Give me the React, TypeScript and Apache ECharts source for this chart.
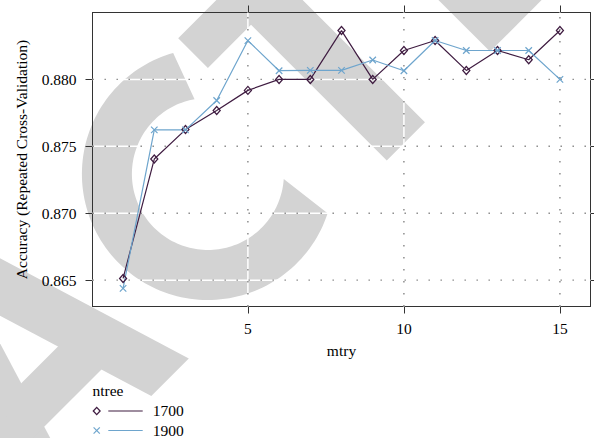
import React, { useEffect, useRef } from "react";
import * as echarts from "echarts";

// ---- data ----
const mtry = [1, 2, 3, 4, 5, 6, 7, 8, 9, 10, 11, 12, 13, 14, 15];
const ntreeLevels = ["1700", "1900"];
const acc1700 = [0.86513, 0.87405, 0.87625, 0.87767, 0.87918, 0.88, 0.88, 0.88365, 0.88, 0.88216, 0.88291, 0.88067, 0.88216, 0.88147, 0.88365];
const acc1900 = [0.86438, 0.87623, 0.87623, 0.87842, 0.8829, 0.88065, 0.88067, 0.88067, 0.88145, 0.88065, 0.88291, 0.88216, 0.88216, 0.88216, 0.88];
const xTicks = [5, 10, 15];
const yTicks = [0.865, 0.87, 0.875, 0.88];
const xTitle = "mtry";
const yTitle = "Accuracy (Repeated Cross-Validation)";
const legendTitle = "ntree";

// ---- styles ----
const FONT = "Liberation Serif";
const FS = 15.5;
const PURPLE = "#3f1c41";
const BLUE = "#6ea5cd";
const FRAME = "#333333";
const WM = "#d3d3d3";

const GRID = { left: 92.5, top: 12.5, width: 498, height: 294 };

// watermark helpers (decoration only)
const S2 = Math.SQRT2;
const toScreen = (p: number[]) => [(p[0] + p[1]) / S2, (p[1] - p[0]) / S2];
const letterPoly = (pts: number[][]) => pts.map(toScreen);
function cShape() {
  const cx = 207.9, cy = 174, R = 126, r = 76;
  const pts: number[][] = [];
  const rad = (d: number) => (d * Math.PI) / 180;
  for (let a = 18.2; a <= 254; a += 2) pts.push([cx + R * Math.cos(rad(a)), cy + R * Math.sin(rad(a))]);
  pts.push([cx + R * Math.cos(rad(254)), cy + R * Math.sin(rad(254))]);
  for (let a = 259.9; a >= 3.7; a -= 2) pts.push([cx + r * Math.cos(rad(a)), cy + r * Math.sin(rad(a))]);
  pts.push([cx + r * Math.cos(rad(3.7)), cy + r * Math.sin(rad(3.7))]);
  return pts;
}

const txt = (text: string, x: number, y: number, align: string, rotation = 0) => ({
  type: "text", x, y, rotation,
  style: { text, fontFamily: FONT, fontSize: FS, fill: "#000", align, verticalAlign: "middle" },
});

export default function App() {
  const ref = useRef<HTMLDivElement>(null);
  useEffect(() => {
    if (!ref.current) return;
    const chart = echarts.init(ref.current, undefined, { renderer: "svg" });

    const allY = acc1700.concat(acc1900);
    const yLo = Math.min(...allY), yHi = Math.max(...allY);
    const yPad = 0.07 * (yHi - yLo);
    const yMin = yLo - yPad, yMax = yHi + yPad;
    const xLo = Math.min(...mtry), xHi = Math.max(...mtry);
    const xPad = 0.07 * (xHi - xLo);
    const xMin = xLo - xPad, xMax = xHi + xPad;

    const wmPolys = [
      cShape(),
      letterPoly([[99, 153], [275, 153], [275, 195], [214, 195], [214, 387], [160, 387], [160, 195], [99, 195]]),
      letterPoly([[310, 383], [600, 383], [600, 100], [310, 100]]),
      letterPoly([[-191.8, 153], [-120, 387], [-173, 387], [-244.8, 153]]),
      letterPoly([[-268.2, 153], [-215.2, 153], [-287, 387], [-340, 387]]),
      letterPoly([[-290, 286], [-170, 286], [-170, 333], [-290, 333]]),
    ];

    const gridGroup = (p1: number[], p2: number[]) => {
      const shape = { x1: p1[0], y1: p1[1], x2: p2[0], y2: p2[1] };
      return {
        type: "group",
        children: [
          { type: "line", shape, style: { stroke: "#ffffff", lineWidth: 1.5 } },
          { type: "line", shape, style: { stroke: "#858585", lineWidth: 1.4, lineDash: [1.4, 10.6] } },
        ],
      };
    };

    const axisCommon = {
      type: "value" as const,
      axisLine: { show: true, onZero: false, lineStyle: { color: FRAME, width: 1 } },
      splitLine: { show: false },
    };

    const legendY = [411, 430.5];

    chart.setOption({
      animation: false,
      textStyle: { fontFamily: FONT, fontSize: FS },
      grid: { ...GRID, containLabel: false },
      xAxis: [
        {
          ...axisCommon, min: xMin, max: xMax, position: "bottom",
          axisTick: { show: true, length: 7, customValues: xTicks, lineStyle: { color: FRAME } },
          axisLabel: { show: true, customValues: xTicks, margin: 14, fontFamily: FONT, fontSize: FS, color: "#000" },
        },
        {
          ...axisCommon, min: xMin, max: xMax, position: "top",
          axisTick: { show: true, length: 7, customValues: xTicks, lineStyle: { color: FRAME } },
          axisLabel: { show: false },
        },
      ],
      yAxis: [
        {
          ...axisCommon, min: yMin, max: yMax, position: "left",
          axisTick: { show: true, length: 7, customValues: yTicks, lineStyle: { color: FRAME } },
          axisLabel: {
            show: true, customValues: yTicks, margin: 16, color: "#000",
            fontFamily: FONT, fontSize: FS,
            formatter: (v: number) => v.toFixed(3),
          },
        },
        {
          ...axisCommon, min: yMin, max: yMax, position: "right",
          axisTick: { show: true, length: 7, customValues: yTicks, lineStyle: { color: FRAME } },
          axisLabel: { show: false },
        },
      ],
      graphic: [
        ...wmPolys.map((pts) => ({
          type: "polygon", z: -10, silent: true, shape: { points: pts }, style: { fill: WM },
        })),
        txt(yTitle, 21.5, GRID.top + GRID.height / 2, "center", Math.PI / 2),
        txt(xTitle, GRID.left + GRID.width / 2, 350, "center"),
        txt(legendTitle, 92.5, 390.5, "left"),
        {
          type: "polygon",
          shape: { points: [[96.7, legendY[0] - 3.6], [100.1, legendY[0]], [96.7, legendY[0] + 3.6], [93.3, legendY[0]]] },
          style: { fill: "none", stroke: PURPLE, lineWidth: 1.3 },
        },
        {
          type: "line", shape: { x1: 108.3, y1: legendY[0], x2: 142.7, y2: legendY[0] },
          style: { stroke: PURPLE, lineWidth: 1.2 },
        },
        txt(ntreeLevels[0], 152.7, legendY[0] - 0.5, "left"),
        {
          type: "line", shape: { x1: 93.6, y1: legendY[1] - 3.1, x2: 99.8, y2: legendY[1] + 3.1 },
          style: { stroke: BLUE, lineWidth: 1.2 },
        },
        {
          type: "line", shape: { x1: 99.8, y1: legendY[1] - 3.1, x2: 93.6, y2: legendY[1] + 3.1 },
          style: { stroke: BLUE, lineWidth: 1.2 },
        },
        {
          type: "line", shape: { x1: 108.3, y1: legendY[1], x2: 142.7, y2: legendY[1] },
          style: { stroke: BLUE, lineWidth: 1.2 },
        },
        txt(ntreeLevels[1], 152.7, legendY[1] - 0.5, "left"),
      ],
      series: [
        {
          type: "custom", silent: true, z: 1,
          data: xTicks.map((v) => [v, yMin]),
          renderItem: (params: any, api: any) => {
            const v = api.value(0);
            return gridGroup(api.coord([v, yMin]), api.coord([v, yMax]));
          },
        },
        {
          type: "custom", silent: true, z: 1,
          data: yTicks.map((v) => [xMin, v]),
          renderItem: (params: any, api: any) => {
            const v = api.value(1);
            return gridGroup(api.coord([xMin, v]), api.coord([xMax, v]));
          },
        },
        {
          name: ntreeLevels[0], type: "line", z: 3,
          data: mtry.map((m, i) => [m, acc1700[i]]),
          symbol: "diamond", symbolSize: [7, 8], showSymbol: true,
          lineStyle: { color: PURPLE, width: 1.2 },
          itemStyle: { color: "rgba(0,0,0,0)", borderColor: PURPLE, borderWidth: 1.3 },
        },
        {
          name: ntreeLevels[1], type: "line", z: 3,
          data: mtry.map((m, i) => [m, acc1900[i]]),
          symbol: "path://M0,0L10,10M10,0L0,10", symbolSize: 6.5, showSymbol: true,
          lineStyle: { color: BLUE, width: 1.2 },
          itemStyle: { color: "rgba(0,0,0,0)", borderColor: BLUE, borderWidth: 1.2 },
        },
      ],
    });
    return () => chart.dispose();
  }, []);
  return <div ref={ref} style={{ position: "absolute", left: 0, top: 0, width: 594, height: 438 }} />;
}
